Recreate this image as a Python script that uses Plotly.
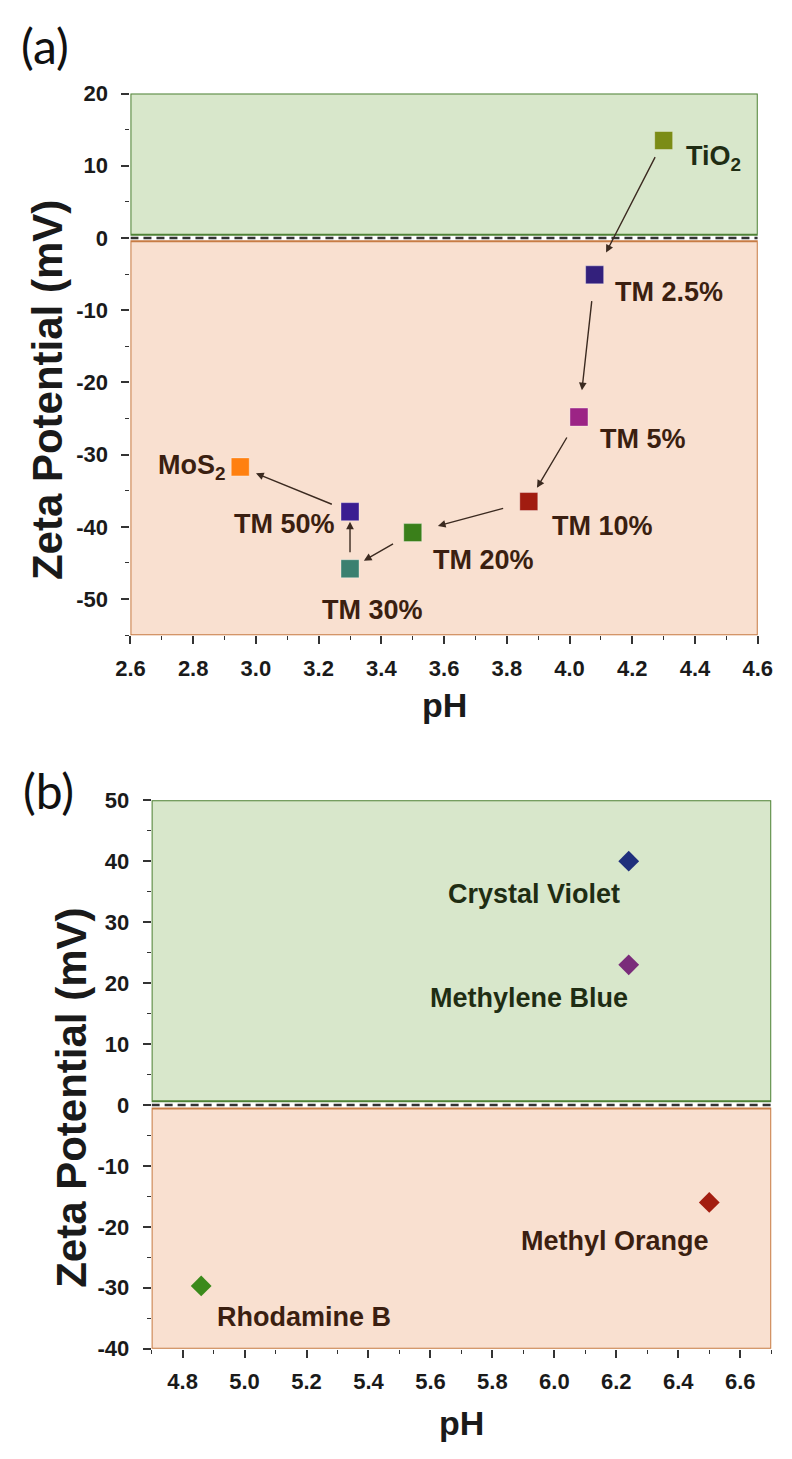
import plotly.graph_objects as go

# ---------------- data ----------------
# Panel (a): composites
samples_a = ["TiO<sub>2</sub>", "TM 2.5%", "TM 5%", "TM 10%", "TM 20%", "TM 30%", "TM 50%", "MoS<sub>2</sub>"]
ph_a = [4.30, 4.08, 4.03, 3.87, 3.50, 3.30, 3.30, 2.95]
zeta_a = [13.5, -5.1, -24.8, -36.5, -40.8, -45.8, -37.9, -31.7]
colors_a = ["#7b8c16", "#33207c", "#9c2485", "#a11c10", "#3a7f1a", "#3b8070", "#3a1d91", "#ff8010"]

# Panel (b): dyes
dyes_b = ["Crystal Violet", "Methylene Blue", "Methyl Orange", "Rhodamine B"]
ph_b = [6.24, 6.24, 6.50, 4.86]
zeta_b = [40.0, 23.0, -16.0, -29.7]
colors_b = ["#1f2f7c", "#7a2c7a", "#a31e10", "#3b8a1b"]

# tick labels
xt_a = [2.6, 2.8, 3.0, 3.2, 3.4, 3.6, 3.8, 4.0, 4.2, 4.4, 4.6]
yt_a = [20, 10, 0, -10, -20, -30, -40, -50]
yt_a_text = ["20", "10", "0", "-10", "-20", "-30", "-40", "-50"]
xt_b = [4.8, 5.0, 5.2, 5.4, 5.6, 5.8, 6.0, 6.2, 6.4, 6.6]
yt_b = [50, 40, 30, 20, 10, 0, -10, -20, -30, -40]
yt_b_text = ["50", "40", "30", "20", "10", "0", "-10", "-20", "-30", "-40"]

# ---------------- styling ----------------
W, H = 792, 1459
GREEN_FILL, GREEN_LINE = "#d8e7cb", "#4f8236"
ORANGE_FILL, ORANGE_LINE = "#f9e0d0", "#c77c45"
TXT_POS = "#1f2d13"
TXT_NEG = "#3b1f10"
TICK_FONT = dict(family="Liberation Sans, Arial", size=22, color="#1a1a1a", weight="bold")

fig = go.Figure()

fig.add_trace(go.Scatter(
    x=ph_a, y=zeta_a, mode="markers", xaxis="x", yaxis="y",
    marker=dict(symbol="square", size=18, color=colors_a,
                line=dict(width=1, color="rgba(255,255,255,0.35)")),
    showlegend=False, hoverinfo="skip"))

fig.add_trace(go.Scatter(
    x=ph_b, y=zeta_b, mode="markers", xaxis="x2", yaxis="y2",
    marker=dict(symbol="diamond", size=16, color=colors_b, line=dict(width=0)),
    showlegend=False, hoverinfo="skip"))

# background zones + dashed zero line
def zones(xref, yref, xr, yr, gap):
    return [
        dict(type="rect", xref=xref, yref=yref, x0=xr[0], x1=xr[1], y0=gap, y1=yr[1],
             fillcolor=GREEN_FILL, line=dict(color=GREEN_LINE, width=2), layer="below"),
        dict(type="rect", xref=xref, yref=yref, x0=xr[0], x1=xr[1], y0=yr[0], y1=-gap,
             fillcolor=ORANGE_FILL, line=dict(color=ORANGE_LINE, width=2), layer="below"),
        dict(type="line", xref=xref, yref=yref, x0=xr[0], x1=xr[1], y0=0, y1=0,
             line=dict(color="#333333", width=2.5, dash="8px,5px"), layer="below"),
    ]

shapes = zones("x", "y", (2.6, 4.6), (-55, 20), 0.45) + zones("x2", "y2", (4.7, 6.7), (-40, 50), 0.6)

annotations = []

# labels for panel (a): (xanchor, xshift, yshift)
lab_a = [("left", 20, -17), ("left", 18, -17), ("left", 19, -22), ("left", 21, -24),
         ("left", 18, -27), ("center", 22, -41), ("right", -13, -12), ("right", -12, 0)]
for i, (name, xx, yy) in enumerate(zip(samples_a, ph_a, zeta_a)):
    xa, xs, ys = lab_a[i]
    annotations.append(dict(
        x=xx, y=yy, xref="x", yref="y", text=name, showarrow=False,
        xanchor=xa, yanchor="middle", xshift=xs, yshift=ys,
        font=dict(family="Liberation Sans, Arial", size=27, weight="bold",
                  color=TXT_POS if yy > 0 else TXT_NEG)))

# arrows between consecutive samples: (startstandoff, standoff)
arr_a = [(17, 25), (25, 27), (22, 16), (25, 26), (21, 16), (15, 10), (18, 17)]
for i in range(len(ph_a) - 1):
    ss, so = arr_a[i]
    annotations.append(dict(
        x=ph_a[i + 1], y=zeta_a[i + 1], ax=ph_a[i], ay=zeta_a[i],
        xref="x", yref="y", axref="x", ayref="y", text="", showarrow=True,
        arrowhead=2, arrowsize=1.1, arrowwidth=1.4, arrowcolor="#3b2a20",
        startstandoff=ss, standoff=so))

# labels for panel (b)
lab_b = [("right", -7, -33), ("right", 1, -33), ("right", 2, -39), ("left", 14, -31)]
for i, (name, xx, yy) in enumerate(zip(dyes_b, ph_b, zeta_b)):
    xa, xs, ys = lab_b[i]
    annotations.append(dict(
        x=xx, y=yy, xref="x2", yref="y2", text=name, showarrow=False,
        xanchor=xa, yanchor="middle", xshift=xs, yshift=ys,
        font=dict(family="Liberation Sans, Arial", size=27, weight="bold",
                  color=TXT_POS if yy > 0 else TXT_NEG)))

# axis titles and panel letters
def px(xp, yp):
    return xp / W, 1 - yp / H

YT_FONT = dict(family="Liberation Sans, Arial", size=42, color="#1a1a1a", weight="bold")
XT_FONT = dict(family="Liberation Sans, Arial", size=34, color="#1a1a1a", weight="bold")
for (xp, yp, txt, ang, f) in [(34, 385, "Zeta Potential (mV)", -90, YT_FONT),
                              (446, 705, "pH", 0, XT_FONT),
                              (58, 1105, "Zeta Potential (mV)", -90, YT_FONT),
                              (464, 1436, "pH", 0, XT_FONT)]:
    xx, yy = px(xp, yp)
    annotations.append(dict(x=xx, y=yy, xref="paper", yref="paper", text=txt, showarrow=False,
                            textangle=ang, xanchor="center", yanchor="middle", font=f))
for (xp, yp, txt) in [(4, 34, "(a)"), (6, 792, "(b)")]:
    xx, yy = px(xp, yp)
    annotations.append(dict(x=xx, y=yy, xref="paper", yref="paper", text=txt, showarrow=False,
                            xanchor="left", yanchor="middle",
                            font=dict(family="Lato, Open Sans", size=48, color="#111111")))

def xaxis(domain, rng, vals, anchor):
    return dict(domain=domain, range=rng, anchor=anchor, tickmode="array", tickvals=vals,
                ticktext=[f"{v:.1f}" for v in vals], ticks="outside", ticklen=8, tickwidth=1.6,
                tickcolor="#333333", showline=False, showgrid=False, zeroline=False,
                tickfont=TICK_FONT, ticklabelstandoff=5,
                minor=dict(tickmode="linear", tick0=rng[0], dtick=0.1, ticks="outside",
                           ticklen=4, tickwidth=1.4, tickcolor="#333333", showgrid=False))

def yaxis(domain, rng, vals, text, anchor):
    return dict(domain=domain, range=rng, anchor=anchor, tickmode="array", tickvals=vals,
                ticktext=text, ticks="outside", ticklen=8, tickwidth=1.6, tickcolor="#333333",
                showline=False, showgrid=False, zeroline=False, tickfont=TICK_FONT,
                ticklabelstandoff=9,
                minor=dict(tickmode="linear", tick0=0, dtick=5, ticks="outside",
                           ticklen=4, tickwidth=1.4, tickcolor="#333333", showgrid=False))

fig.update_layout(
    width=W, height=H, margin=dict(l=0, r=0, t=0, b=0),
    paper_bgcolor="white", plot_bgcolor="white",
    xaxis=xaxis([120 / W, 772 / W], [2.6, 4.6], xt_a, "y"),
    yaxis=yaxis([1 - 634 / H, 1 - 83 / H], [-55, 20], yt_a, yt_a_text, "x"),
    xaxis2=xaxis([142 / W, 786 / W], [4.7, 6.7], xt_b, "y2"),
    yaxis2=yaxis([1 - 1360 / H, 1 - 802 / H], [-40, 50], yt_b, yt_b_text, "x2"),
    shapes=shapes, annotations=annotations, showlegend=False,
)

fig.write_html("out.html",
               post_script="document.body.style.margin='0';document.body.style.overflow='hidden';")
